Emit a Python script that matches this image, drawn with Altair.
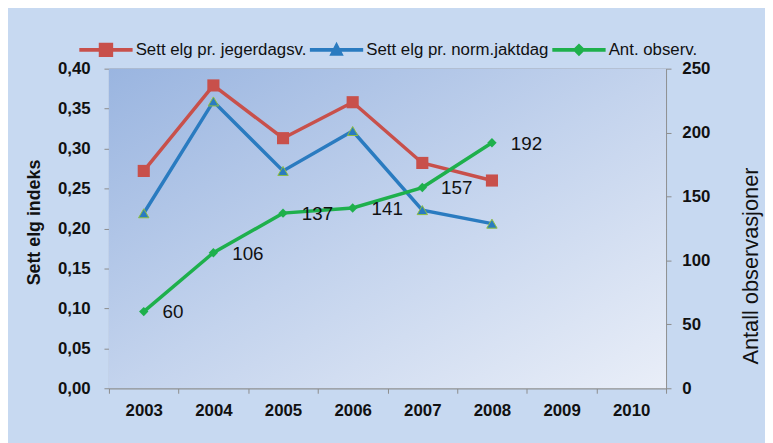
import altair as alt
import pandas as pd

# ---- data ----
years = ["2003", "2004", "2005", "2006", "2007", "2008", "2009", "2010"]
data_years = ["2003", "2004", "2005", "2006", "2007", "2008"]
jegerdag = [0.272, 0.379, 0.313, 0.358, 0.282, 0.260]
normjakt = [0.219, 0.359, 0.272, 0.322, 0.223, 0.206]
observ = [60, 106, 137, 141, 157, 192]
series_names = ["Sett elg pr. jegerdagsv.", "Sett elg pr. norm.jaktdag", "Ant. observ."]
colors = ["#c8504b", "#2a7bc0", "#1eb04c"]
left_ticks = [0.0, 0.05, 0.10, 0.15, 0.20, 0.25, 0.30, 0.35, 0.40]
right_ticks = [0, 50, 100, 150, 200, 250]

# legend symbols: a line segment with the marker on top
legend_shapes = [
    "M-1,-0.07H1V0.07H-1Z M-0.27,-0.27H0.27V0.27H-0.27Z",
    "M-1,-0.07H1V0.07H-1Z M0,-0.3L0.27,0.22H-0.27Z",
    "M-1,-0.07H1V0.07H-1Z M0,-0.24L0.24,0L0,0.24L-0.24,0Z",
]

W, H = 563, 323
FONT = "Liberation Sans"

jeger_df = pd.DataFrame({"year": data_years, "value": jegerdag})
norm_df = pd.DataFrame({"year": data_years, "value": normjakt})
obs_df = pd.DataFrame({"year": data_years, "value": observ})
legend_df = pd.DataFrame({"series": series_names})

x_enc = alt.X(
    "year:O",
    scale=alt.Scale(type="band", domain=years, paddingInner=0, paddingOuter=0),
    axis=alt.Axis(
        title=None, labelAngle=0, tickBand="extent", grid=False,
        domainColor="#8c8c8c", tickColor="#8c8c8c", tickSize=5,
        labelFont=FONT, labelFontSize=17, labelFontWeight="bold", labelColor="#111111",
        labelPadding=10,
    ),
)

bg = alt.Chart(alt.Data(values=[{}])).mark_rect(
    fill=alt.LinearGradient(
        gradient="linear",
        stops=[alt.GradientStop(color="#9ab5e0", offset=0),
               alt.GradientStop(color="#c3d3ed", offset=0.5),
               alt.GradientStop(color="#e9eef8", offset=1)],
        x1=0, y1=0, x2=1, y2=1,
    )
).encode(x=alt.value(0), x2=alt.value(W), y=alt.value(0), y2=alt.value(H))

y_left = alt.Y(
    "value:Q",
    scale=alt.Scale(domain=[0, 0.4], nice=False, zero=True),
    axis=alt.Axis(
        orient="left", values=left_ticks,
        labelExpr="replace(format(datum.value, '.2f'), '.', ',')",
        grid=True, gridColor="#8a8a8a", gridWidth=1,
        domainColor="#8c8c8c", tickColor="#8c8c8c", tickSize=5,
        labelFont=FONT, labelFontSize=17, labelFontWeight="bold", labelColor="#111111",
        labelPadding=14,
        title="Sett elg indeks", titleFont=FONT, titleFontSize=18, titleFontWeight="bold",
        titleColor="#111111", titleAngle=270, titleX=-75, titleY=155,
        titleAlign="center", titleBaseline="middle",
    ),
)

red_line = alt.Chart(jeger_df).mark_line(strokeWidth=3.5, color=colors[0]).encode(x=x_enc, y=y_left)
red_pts = alt.Chart(jeger_df).mark_point(
    shape="square", filled=True, size=150, opacity=1, color=colors[0]
).encode(x=x_enc, y=y_left)
blue_line = alt.Chart(norm_df).mark_line(strokeWidth=3.5, color=colors[1]).encode(x=x_enc, y=y_left)
blue_pts = alt.Chart(norm_df).mark_point(
    shape="triangle-up", filled=True, size=110, opacity=1, color=colors[1],
    stroke="#8fbf3f", strokeWidth=1
).encode(x=x_enc, y=y_left)
left = alt.layer(red_line, red_pts, blue_line, blue_pts)

y_right = alt.Y(
    "value:Q",
    scale=alt.Scale(domain=[0, 250], nice=False, zero=True),
    axis=alt.Axis(
        orient="right", values=right_ticks, grid=False,
        domainColor="#8c8c8c", tickColor="#8c8c8c", tickSize=5,
        labelFont=FONT, labelFontSize=17, labelFontWeight="bold", labelColor="#111111",
        labelPadding=11,
        title="Antall observasjoner", titleFont=FONT, titleFontSize=22,
        titleFontWeight="normal", titleColor="#111111", titleAngle=270,
        titleX=85, titleY=199, titleAlign="center", titleBaseline="middle",
    ),
)
green_line = alt.Chart(obs_df).mark_line(strokeWidth=3.5, color=colors[2]).encode(x=x_enc, y=y_right)
green_pts = alt.Chart(obs_df).mark_point(
    shape="diamond", filled=True, size=90, opacity=1, color=colors[2]
).encode(x=x_enc, y=y_right)
green_txt = alt.Chart(obs_df).mark_text(
    align="left", baseline="middle", dx=19, dy=1, font=FONT, fontSize=19, color="#111111"
).encode(x=x_enc, y=y_right, text="value:Q")
right = alt.layer(green_line, green_pts, green_txt)

legend_spec = dict(
    title=None, orient="none", legendX=-30, legendY=-46, direction="horizontal",
    symbolSize=2900, symbolStrokeWidth=0, labelFont=FONT, labelFontSize=17,
    labelColor="#111111", columnPadding=3, labelOffset=3, labelLimit=400,
)
legend_layer = alt.Chart(legend_df).transform_filter("false").mark_point(
    filled=True, opacity=1
).encode(
    color=alt.Color("series:N", scale=alt.Scale(domain=series_names, range=colors),
                    legend=alt.Legend(**legend_spec)),
    shape=alt.Shape("series:N", scale=alt.Scale(domain=series_names, range=legend_shapes),
                    legend=alt.Legend(**legend_spec)),
)

chart = alt.layer(bg, left, right, legend_layer).resolve_scale(
    y="independent"
).properties(
    width=W, height=H, autosize="none",
    padding={"left": 102, "top": 59, "right": 100, "bottom": 53},
    background="#c7d9f1",
).configure_view(stroke=None)

chart.save("out.html", embed_options={"renderer": "svg", "actions": False})
